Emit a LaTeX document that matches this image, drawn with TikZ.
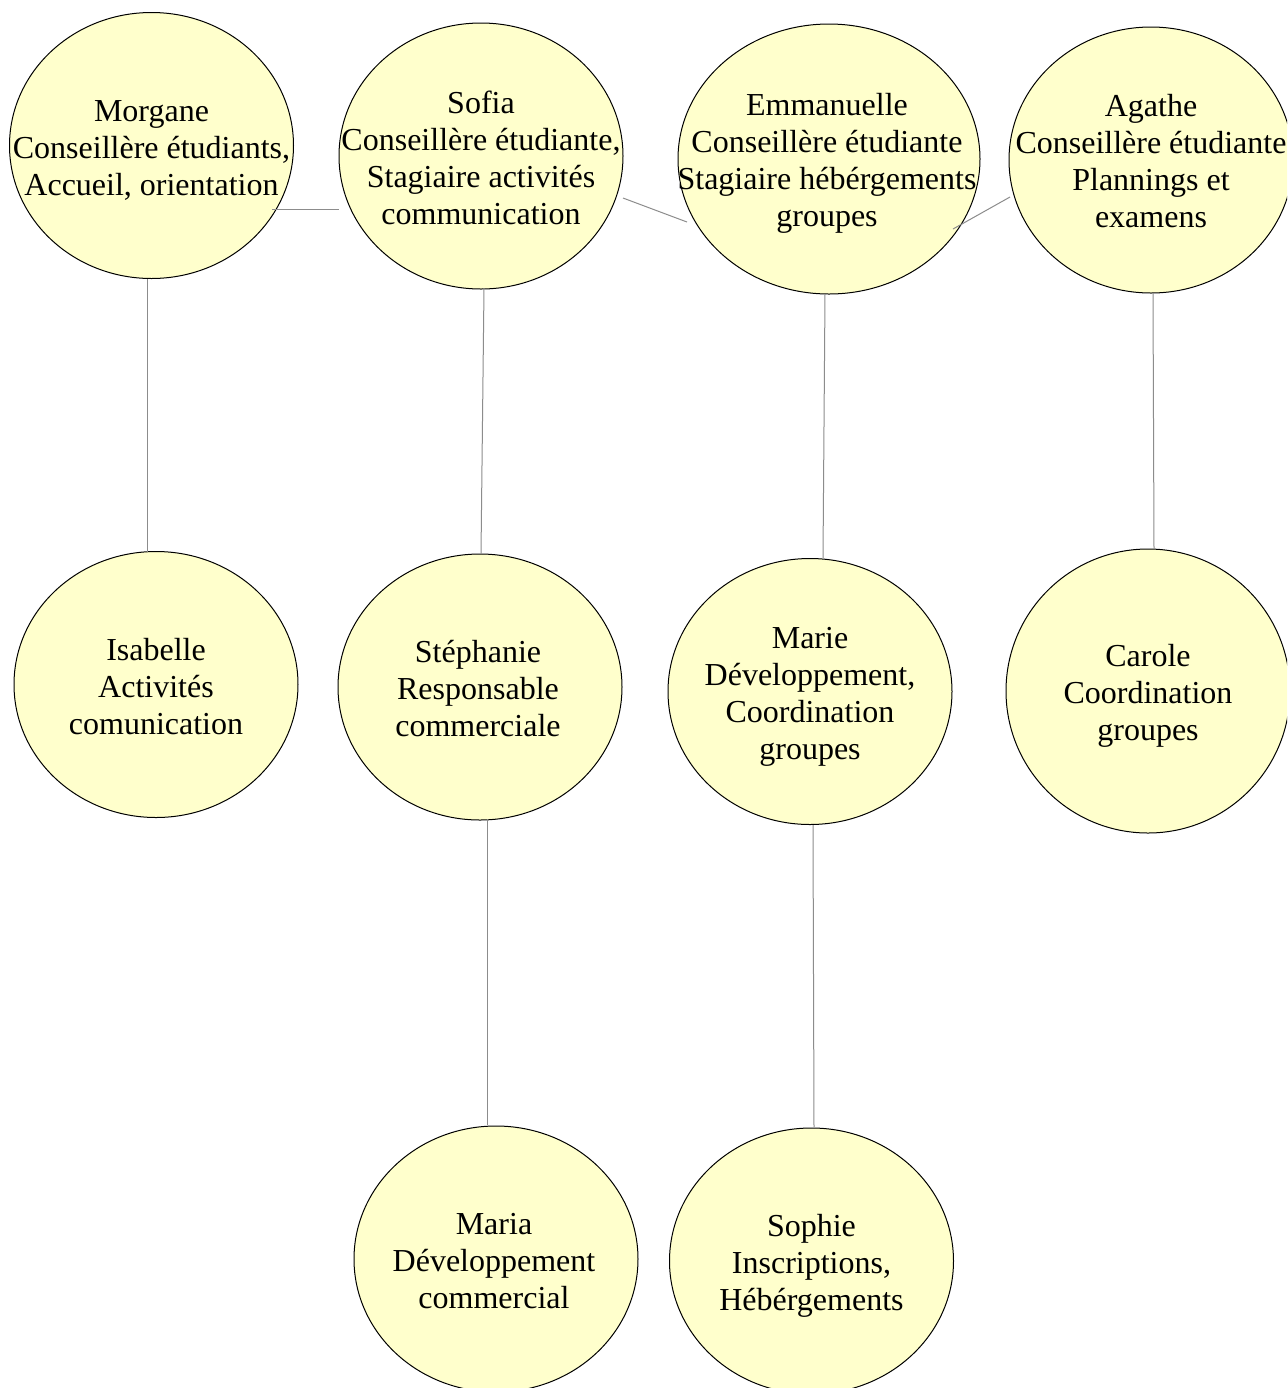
\documentclass[tikz,border=0pt]{standalone}
\usepackage{fontspec}
\setmainfont{Liberation Serif}
\usetikzlibrary{shapes.geometric,calc}
\definecolor{bubble}{RGB}{255,255,204}
\definecolor{linkgray}{RGB}{140,140,140}
\tikzset{
  person/.style={ellipse, draw=black, line width=0.5pt, fill=bubble,
    minimum width=142pt, minimum height=133pt, inner sep=0pt},
  lbl/.style={align=center, inner sep=0pt, font=\fontsize{16}{18.5}\selectfont},
  link/.style={draw=linkgray, line width=0.5pt}
}
\begin{document}
\begin{tikzpicture}[x=0.5pt,y=-0.5pt]
\useasboundingbox (0,0) rectangle (1287,1388);
\clip (0,0) rectangle (1287,1388);
\fill[white] (0,0) rectangle (1287,1388);

% ellipses
\node[person] (morgane) at (151.5,145.5) {};
\node[person] (sofia) at (481,156) {};
\node[person, minimum width=151pt, minimum height=135pt] (emma) at (829,159) {};
\node[person] (agathe) at (1151,160) {};
\node[person] (isabelle) at (156,684.5) {};
\node[person] (steph) at (480,687) {};
\node[person] (marie) at (810,691.5) {};
\node[person, minimum height=142pt] (carole) at (1148,691) {};
\node[person] (maria) at (496,1259) {};
\node[person] (sophie) at (811.5,1261) {};

% texts
\node[lbl] (morgane-t) at ($(morgane)+(0,5)$) {Morgane\\Conseillère étudiants,\\Accueil, orientation};
\node[lbl] (sofia-t) at ($(sofia)+(0,2)$) {Sofia\\Conseillère étudiante,\\Stagiaire activités\\communication};
\node[lbl] (emma-t) at ($(emma)+(-2,4)$) {Emmanuelle\\Conseillère étudiante\\Stagiaire hébérgements\\groupes};
\node[lbl] (agathe-t) at ($(agathe)+(0,1)$) {Agathe\\Conseillère étudiante\\Plannings et\\examens};
\node[lbl] (isabelle-t) at ($(isabelle)+(0,2)$) {Isabelle\\Activités\\comunication};
\node[lbl] (steph-t) at ($(steph)+(-2,2)$) {Stéphanie\\Responsable\\commerciale};
\node[lbl] (marie-t) at ($(marie)+(0,5)$) {Marie\\Développement,\\Coordination\\groupes};
\node[lbl] (carole-t) at ($(carole)+(0,5)$) {Carole\\Coordination\\groupes};
\node[lbl] (maria-t) at ($(maria)+(-2,2)$) {Maria\\Développement\\commercial};
\node[lbl] (sophie-t) at ($(sophie)+(0,5)$) {Sophie\\Inscriptions,\\Hébérgements};

% connectors
\draw[link] ($(morgane)+(120.5,63.5)$) -- ($(sofia)+(-142,53)$);
\draw[link] ($(sofia)+(142,42)$) -- ($(emma)+(-142,63)$);
\draw[link] ($(emma)+(124,70)$) -- ($(agathe)+(-141,37)$);
\draw[link] ($(morgane)+(-4.5,133.5)$) -- ($(isabelle)+(-9,-132.5)$);
\draw[link] ($(sofia)+(3,132)$) -- ($(steph)+(1,-133)$);
\draw[link] ($(emma)+(-4,135)$) -- ($(marie)+(13,-133.5)$);
\draw[link] ($(agathe)+(2,133)$) -- ($(carole)+(6,-142)$);
\draw[link] ($(steph)+(7,132)$) -- ($(maria)+(-9,-134)$);
\draw[link] ($(marie)+(3,133.5)$) -- ($(sophie)+(2.5,-134)$);
\end{tikzpicture}
\end{document}
